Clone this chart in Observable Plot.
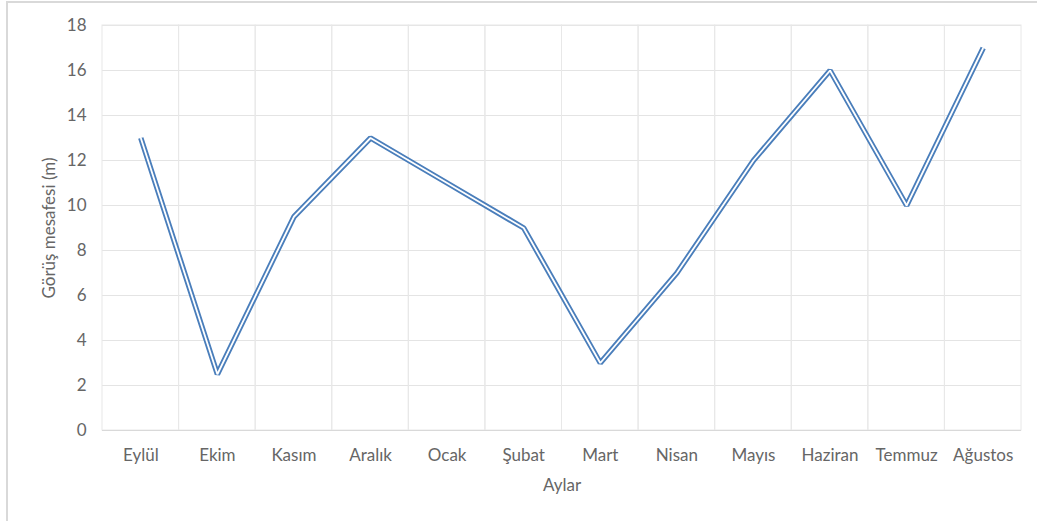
<!DOCTYPE html>
<html>
<head>
<meta charset="utf-8">
<script src="https://cdn.jsdelivr.net/npm/d3@7"></script>
<script src="https://cdn.jsdelivr.net/npm/@observablehq/plot@0.6"></script>
<style>
  html, body { margin: 0; padding: 0; background: #fff; overflow: hidden; }
  #wrap { position: relative; width: 1037px; height: 521px; }
  #border { position: absolute; left: 6px; top: 1px; width: 1040px; height: 540px;
            border-top: 2px solid #d9d9d9; border-left: 2px solid #d9d9d9; box-sizing: border-box; }
  #chart { position: absolute; left: 0; top: 0; }
</style>
</head>
<body>
<div id="wrap"><div id="border"></div><div id="chart"></div></div>
<script>
const months = ["Eylül", "Ekim", "Kasım", "Aralık", "Ocak", "Şubat", "Mart", "Nisan", "Mayıs", "Haziran", "Temmuz", "Ağustos"];
const visibility = [13, 2.5, 9.5, 13, 11, 9, 3, 7, 12, 16, 10, 17];
const yTicks = [0, 2, 4, 6, 8, 10, 12, 14, 16, 18];
const xLabel = "Aylar";
const yLabel = "Görüş mesafesi (m)";

const data = months.map((m, i) => ({month: m, value: visibility[i]}));
const font = "Lato, Calibri, sans-serif";

const chart = Plot.plot({
  width: 1037,
  height: 521,
  marginLeft: 102,
  marginRight: 16,
  marginTop: 25,
  marginBottom: 91,
  style: {fontFamily: font, fontSize: "17px", color: "#666666", background: "transparent"},
  x: {domain: months, padding: 0, round: false, label: null},
  y: {domain: [0, 18], ticks: yTicks, label: null},
  marks: [
    Plot.gridY(yTicks, {stroke: "#e4e4e4", strokeOpacity: 1, strokeWidth: 1}),
    Plot.cell(months, {x: d => d, fill: "none", stroke: "#e8e8e8", strokeOpacity: 1, inset: 0}),
    Plot.ruleY([0], {stroke: "#d9d9d9", strokeWidth: 1}),
    Plot.axisY(yTicks, {tickSize: 0, tickPadding: 16, fill: "#666666", fontSize: 17,
      label: yLabel, labelAnchor: "center", labelArrow: "none", labelOffset: 60}),
    Plot.axisX({tickSize: 0, tickPadding: 18, fill: "#666666", fontSize: 17,
      label: xLabel, labelAnchor: "center", labelArrow: "none", labelOffset: 60}),
    Plot.line(data, {x: "month", y: "value", stroke: "#4a7ebb", strokeWidth: 5.5,
      strokeLinejoin: "miter", strokeLinecap: "butt"}),
    Plot.line(data, {x: "month", y: "value", stroke: "#ffffff", strokeWidth: 1.8,
      strokeLinejoin: "miter", strokeLinecap: "butt"})
  ]
});
document.getElementById("chart").appendChild(chart);
</script>
</body>
</html>
